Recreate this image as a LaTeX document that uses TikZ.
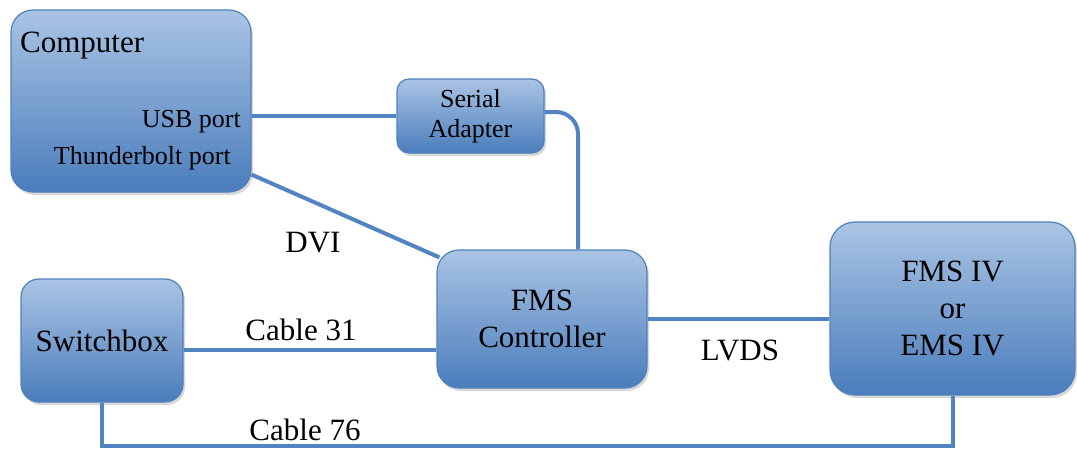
\documentclass[tikz,border=0pt]{standalone}
\usepackage{fontspec}
\setmainfont{Liberation Serif}
\newfontfamily\tnr{Liberation Serif}
\usetikzlibrary{shadows,calc}
\definecolor{boxtop}{HTML}{AAC4E4}
\definecolor{boxbot}{HTML}{4A7DBC}
\definecolor{edge}{HTML}{4F81BD}
\definecolor{wire}{HTML}{5284C2}
\tikzset{
  box/.style={rectangle, draw=edge, line width=1.2pt, top color=boxtop, bottom color=boxbot,
    inner sep=0pt, align=center, font=\tnr\fontsize{31}{37}\selectfont,
    drop shadow={shadow xshift=2pt, shadow yshift=-3pt, fill=black!30, opacity=0.5}},
  smallbox/.style={box, font=\tnr\fontsize{26}{30}\selectfont},
  wirestyle/.style={draw=wire, line width=4pt},
  lbl/.style={inner sep=0pt, font=\tnr\fontsize{31}{37}\selectfont},
  plbl/.style={inner sep=0pt, font=\tnr\fontsize{26}{30}\selectfont}
}
\begin{document}
\begin{tikzpicture}[x=1pt,y=-1pt]
\useasboundingbox (0,0) rectangle (1077,452);
\path (131,101) node[box, minimum width=240pt, minimum height=182pt, rounded corners=22pt] (computer) {};
\path (470.5,116) node[smallbox, minimum width=147pt, minimum height=74pt, rounded corners=12pt] (serial) {Serial\\Adapter};
\path (542,319) node[box, minimum width=210pt, minimum height=138pt, rounded corners=22pt] (ctrl) {FMS\\Controller};
\path (952.5,308.5) node[box, minimum width=245pt, minimum height=173pt, rounded corners=25pt] (fms) {FMS IV\\or\\EMS IV};
\path (102,340.5) node[box, minimum width=162pt, minimum height=123pt, rounded corners=18pt] (switch) {Switchbox};

\node[lbl, anchor=west] (complbl) at (20,46) {Computer};
\node[plbl, anchor=east] (usblbl) at (241,122) {USB port};
\node[plbl, anchor=east] (tblbl) at (231,158) {Thunderbolt port};

% connectors
\draw[wirestyle] (serial.west) -- (serial.west -| computer.east);
\draw[wirestyle, rounded corners=22pt] ([yshift=4pt]serial.east) -| ([xshift=36pt]ctrl.north);
\draw[wirestyle] ([yshift=18pt]computer.south east) -- ([xshift=3pt,yshift=-8pt]ctrl.north west);
\draw[wirestyle] ([yshift=-9pt]switch.east) coordinate (c31a) -- (c31a -| ctrl.west);
\draw[wirestyle] (ctrl.east) -- (ctrl.east -| fms.west);
\draw[wirestyle] (switch.south) -- ([yshift=-43pt]switch.south) -| (fms.south);

\node[lbl] (dvi) at (313,243) {DVI};
\node[lbl] (c31) at (301,330) {Cable 31};
\node[lbl] (lvds) at (740,350) {LVDS};
\node[lbl] (c76) at (305,430) {Cable 76};
\end{tikzpicture}
\end{document}
